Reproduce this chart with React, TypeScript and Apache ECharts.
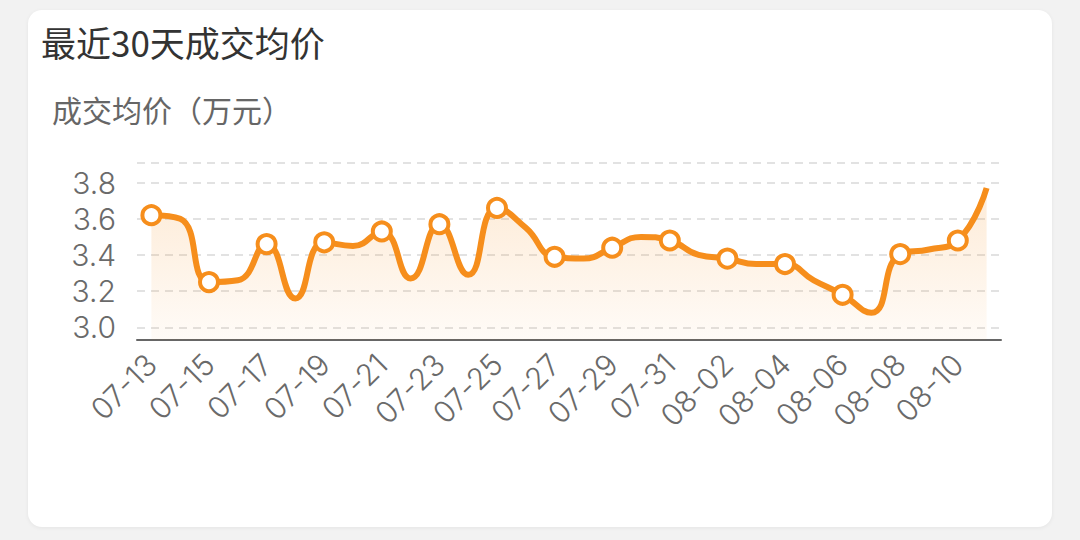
import React, { useEffect, useRef } from "react";
import * as echarts from "echarts";

const TITLE = "最近30天成交均价";
const Y_NAME = "成交均价（万元）";
const categories = [
  "07-13", "07-14", "07-15", "07-16", "07-17", "07-18", "07-19", "07-20", "07-21", "07-22",
  "07-23", "07-24", "07-25", "07-26", "07-27", "07-28", "07-29", "07-30", "07-31", "08-01",
  "08-02", "08-03", "08-04", "08-05", "08-06", "08-07", "08-08", "08-09", "08-10", "08-11",
];
const prices = [
  3.62, 3.6, 3.25, 3.26, 3.46, 3.16, 3.47, 3.45, 3.53, 3.27,
  3.57, 3.29, 3.66, 3.55, 3.39, 3.38, 3.44, 3.5, 3.48, 3.4,
  3.38, 3.35, 3.35, 3.26, 3.18, 3.08, 3.405, 3.43, 3.48, 3.77,
];
const Y_MIN = 2.93;
const Y_MAX = 3.91;

const ORANGE = "#F68E1C";
const CJK_FONT = "'Noto Sans CJK SC', 'Noto Sans', sans-serif";
const NUM_FONT = "Inter, 'Noto Sans', sans-serif";

export default function App() {
  const ref = useRef<HTMLDivElement>(null);
  useEffect(() => {
    document.body.style.margin = "0";
    const chart = echarts.init(ref.current!, undefined, { renderer: "svg" });
    chart.setOption({
      animation: false,
      textStyle: { fontFamily: CJK_FONT },
      title: {
        text: TITLE,
        left: 8,
        top: 9,
        textStyle: { fontSize: 35, fontWeight: "normal", color: "#333", fontFamily: CJK_FONT },
      },
      graphic: [
        {
          type: "text",
          left: 24,
          top: 84,
          style: { text: Y_NAME, fontSize: 30, fill: "#666", fontFamily: CJK_FONT },
        },
      ],
      grid: { left: 109, right: 51, top: 152.7, bottom: 187, containLabel: false },
      xAxis: {
        type: "category",
        data: categories,
        boundaryGap: true,
        axisLine: { lineStyle: { color: "#666", width: 2 } },
        axisTick: { interval: 1, length: 9, lineStyle: { color: "#666", width: 2 } },
        axisLabel: {
          interval: 1,
          rotate: 45,
          margin: 19,
          fontSize: 30,
          fontWeight: 300,
          color: "#6a6a6a",
          fontFamily: NUM_FONT,
        },
      },
      yAxis: {
        type: "value",
        min: Y_MIN,
        max: Y_MAX,
        axisLine: { show: false },
        axisTick: { show: false },
        axisLabel: {
          showMinLabel: false,
          showMaxLabel: false,
          margin: 21,
          fontSize: 30,
          fontWeight: 300,
          color: "#6a6a6a",
          fontFamily: NUM_FONT,
          formatter: (v: number) => v.toFixed(1),
        },
        splitLine: { lineStyle: { color: "#e2e2e2", type: [8, 6], width: 2 } },
      },
      series: [
        {
          type: "line",
          smooth: true,
          showAllSymbol: true,
          symbol: "circle",
          symbolSize: 18,
          data: prices.map((v, i) => (i % 2 === 0 ? v : { value: v, symbol: "none" })),
          lineStyle: { color: ORANGE, width: 6 },
          itemStyle: { color: "#fff", borderColor: ORANGE, borderWidth: 4 },
          areaStyle: {
            color: new echarts.graphic.LinearGradient(0, 0, 0, 1, [
              { offset: 0, color: "rgba(246,142,28,0.25)" },
              { offset: 1, color: "rgba(246,142,28,0.05)" },
            ]),
          },
        },
      ],
    });
    return () => chart.dispose();
  }, []);
  return (
    <div
      style={{
        position: "fixed",
        left: 0,
        top: 0,
        width: 1080,
        height: 540,
        background: "#f2f2f2",
      }}
    >
      <div
        style={{
          position: "absolute",
          left: 28,
          top: 10,
          width: 1024,
          height: 517,
          background: "#fff",
          borderRadius: 14,
          boxShadow: "0 1px 4px rgba(0,0,0,0.06)",
          overflow: "hidden",
        }}
      >
        <div ref={ref} style={{ width: 1024, height: 517 }} />
      </div>
    </div>
  );
}
